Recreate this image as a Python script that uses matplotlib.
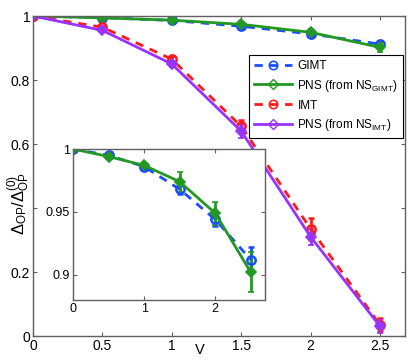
import matplotlib
matplotlib.use("Agg")
import matplotlib.pyplot as plt
from matplotlib.lines import Line2D

plt.rcParams['font.family'] = ['Liberation Sans', 'DejaVu Sans']
plt.rcParams['mathtext.fontset'] = 'custom'
plt.rcParams['mathtext.rm'] = 'Liberation Sans'
plt.rcParams['mathtext.it'] = 'Liberation Sans'

V = [0, 0.5, 1, 1.5, 2, 2.5]
gimt = [1.0, 0.995, 0.986, 0.968, 0.944, 0.912]
gimt_err = [0, 0.001, 0.002, 0.004, 0.005, 0.010]
pns_g = [1.0, 0.994, 0.987, 0.974, 0.949, 0.902]
pns_g_err = [0, 0.002, 0.002, 0.008, 0.009, 0.016]
imt = [1.0, 0.965, 0.865, 0.655, 0.335, 0.035]
imt_err = [0, 0.005, 0.01, 0.02, 0.035, 0.02]
pns_i = [1.0, 0.955, 0.850, 0.640, 0.310, 0.030]
pns_i_err = [0, 0.005, 0.01, 0.02, 0.025, 0.02]

C_BLUE = '#1a4dff'
C_GREEN = '#229922'
C_RED = '#ff1a1a'
C_PURPLE = '#9933ff'
AX_COL = '#606060'

fig = plt.figure(figsize=(4.15, 3.62), dpi=100)
W, H = 415, 362
ax = fig.add_axes([33 / W, 1 - 336 / H, (405 - 33) / W, (336 - 16) / H])

def style(a, fs):
    for s in a.spines.values():
        s.set_color(AX_COL)
        s.set_linewidth(1.0)
    a.tick_params(direction='in', top=True, right=True, length=3, width=0.8,
                  color=AX_COL, labelsize=fs, pad=2)

ax.errorbar(V, gimt, yerr=gimt_err, color=C_BLUE, ls='--', lw=2, marker='o', ms=6,
            mfc='none', mew=1.8, capsize=2, dashes=(3, 2.5))
ax.errorbar(V, pns_g, yerr=pns_g_err, color=C_GREEN, ls='-', lw=2, marker='D', ms=5.5,
            mfc=C_GREEN, mew=1.2, capsize=2)
ax.errorbar(V, imt, yerr=imt_err, color=C_RED, ls='--', lw=2, marker='o', ms=6,
            mfc='none', mew=1.8, capsize=2, dashes=(3, 2.5))
ax.errorbar(V, pns_i, yerr=pns_i_err, color=C_PURPLE, ls='-', lw=2, marker='D', ms=5.5,
            mfc=C_PURPLE, mew=1.2, capsize=2)

ax.set_xlim(0, 2.68)
ax.set_ylim(0, 1)
ax.set_xticks([0, 0.5, 1, 1.5, 2, 2.5])
ax.set_xticklabels(['0', '0.5', '1', '1.5', '2', '2.5'])
ax.set_yticks([0, 0.2, 0.4, 0.6, 0.8, 1])
ax.set_yticklabels(['0', '0.2', '', '0.6', '0.8', '1'])
style(ax, 10)

handles = [
    Line2D([], [], color=C_BLUE, ls='--', lw=2, marker='o', ms=6, mfc='none', mew=1.2, dashes=(3, 2.5)),
    Line2D([], [], color=C_GREEN, ls='-', lw=2, marker='D', ms=5, mfc='none', mew=1.0),
    Line2D([], [], color=C_RED, ls='--', lw=2, marker='o', ms=6, mfc='none', mew=1.2, dashes=(3, 2.5)),
    Line2D([], [], color=C_PURPLE, ls='-', lw=2, marker='D', ms=5, mfc='none', mew=1.0),
]
labels = ['GIMT', r'PNS (from NS$_{\rm GIMT}$)', 'IMT', r'PNS (from NS$_{\rm IMT}$)']
leg = ax.legend(handles, labels, loc='upper left', bbox_to_anchor=((249 - 33) / (405 - 33), 1 - (55 - 16) / 320),
                fontsize=8.5, frameon=True, fancybox=False, edgecolor='black', framealpha=1,
                borderpad=0.4, labelspacing=0.5, handlelength=3.2, handletextpad=0.5,
                borderaxespad=0)
leg.get_frame().set_linewidth(0.8)

fig.text(19 / W, 1 - 204 / H, r'$\Delta_{OP}/\Delta_{OP}^{(0)}$', fontsize=12,
         rotation=90, ha='center', va='center')
fig.text(200 / W, 1 - 350 / H, 'V', fontsize=10.5, ha='center', va='center')

# inset
axi = fig.add_axes([73 / W, 1 - 300 / H, (265 - 73) / W, (300 - 149) / H])
axi.errorbar(V, gimt, yerr=gimt_err, color=C_BLUE, ls='--', lw=2, marker='o', ms=6,
             mfc='none', mew=1.8, capsize=2, dashes=(3, 2.5))
axi.errorbar(V, pns_g, yerr=pns_g_err, color=C_GREEN, ls='-', lw=2, marker='D', ms=5.5,
             mfc=C_GREEN, mew=1.2, capsize=2)
axi.set_xlim(0, 2.7)
axi.set_ylim(0.88, 1.0)
axi.set_xticks([0, 1, 2])
axi.set_yticks([0.9, 0.95, 1.0])
axi.set_yticklabels(['0.9', '0.95', '1'])
style(axi, 9)
axi.set_facecolor('white')

fig.savefig('out.png', dpi=100)
